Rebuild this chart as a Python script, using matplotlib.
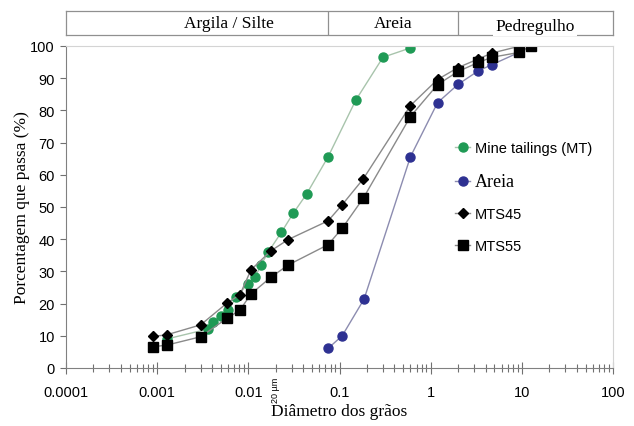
import numpy as np
import matplotlib
matplotlib.use("Agg")
import matplotlib.pyplot as plt
from matplotlib.ticker import LogLocator, NullFormatter

# grain size data (mm) / percent passing
mt_d = [0.00127, 0.0036, 0.0041, 0.005, 0.006, 0.0074, 0.0098, 0.0118, 0.0138,
        0.0166, 0.023, 0.031, 0.0435, 0.075, 0.151, 0.30, 0.60]
mt_p = [9.0, 12.1, 14.2, 16.2, 18.0, 22.0, 26.1, 28.2, 32.0,
        36.1, 42.1, 48.0, 54.0, 65.6, 83.2, 96.5, 99.4]

areia_d = [0.075, 0.107, 0.186, 0.60, 1.19, 2.0, 3.34, 4.7, 9.3]
areia_p = [6.1, 10.0, 21.4, 65.6, 82.4, 88.1, 92.3, 94.2, 98.0]

mts45_d = [0.0009, 0.00127, 0.003, 0.0058, 0.0081, 0.0107, 0.0177, 0.0274,
           0.075, 0.107, 0.182, 0.60, 1.19, 2.0, 3.34, 4.7, 9.3]
mts45_p = [9.8, 10.3, 13.4, 20.1, 22.8, 30.5, 36.4, 39.9,
           45.7, 50.7, 58.7, 81.5, 89.6, 93.3, 96.0, 97.8, 99.9]

mts55_d = [0.0009, 0.00127, 0.003, 0.0058, 0.0081, 0.0107, 0.0177, 0.0274,
           0.075, 0.107, 0.182, 0.60, 1.19, 2.0, 3.34, 4.7, 9.3, 12.6]
mts55_p = [6.6, 7.1, 9.7, 15.4, 18.0, 23.0, 28.2, 32.0,
           38.3, 43.4, 52.7, 78.1, 88.0, 92.1, 94.9, 96.5, 98.0, 100.0]

x_ticks = [0.0001, 0.001, 0.01, 0.1, 1, 10, 100]
x_labels = ["0.0001", "0.001", "0.01", "0.1", "1", "10", "100"]

# soil classes in the header band
class_names = ["Argila / Silte", "Areia", "Pedregulho"]
class_bounds = [0.0001, 0.075, 2.0, 100]

serif = "Liberation Serif"
sans = "Liberation Sans"

fig = plt.figure(figsize=(6.34, 4.27), dpi=100)
ax = fig.add_axes([66 / 634, 1 - 369 / 427, 547 / 634, 322 / 427])

ax.plot(mt_d, mt_p, "-o", color="#a8c4ac", lw=1, mfc="#1f9a55", mec="#1f9a55",
        ms=6.5, label="Mine tailings (MT)")
ax.plot(areia_d, areia_p, "-o", color="#8c8cb0", lw=1, mfc="#2e3192", mec="#2e3192",
        ms=6.5, label="Areia")
ax.plot(mts45_d, mts45_p, "-D", color="#8a8a8a", lw=1, mfc="black", mec="black",
        ms=4.8, label="MTS45")
ax.plot(mts55_d, mts55_p, "-s", color="#8a8a8a", lw=1, mfc="black", mec="black",
        ms=6.5, label="MTS55")

ax.set_xscale("log")
ax.set_xlim(0.0001, 100)
ax.set_ylim(0, 100)
ax.set_yticks(np.arange(0, 101, 10))
ax.set_xticks(x_ticks)
ax.set_xticklabels(x_labels)
ax.xaxis.set_minor_locator(LogLocator(base=10, subs=np.arange(2, 10), numticks=20))
ax.xaxis.set_minor_formatter(NullFormatter())

ax.tick_params(axis="x", which="major", direction="inout", length=8, width=0.8,
               color="#707070", pad=8, labelsize=10.5)
ax.tick_params(axis="x", which="minor", direction="inout", length=6, width=0.8,
               color="#707070")
ax.tick_params(axis="y", direction="out", length=4, width=0.8, color="#707070",
               pad=4, labelsize=10.5)
for lab in ax.get_xticklabels() + ax.get_yticklabels():
    lab.set_family(sans)

ax.spines["left"].set_color("#808080")
ax.spines["bottom"].set_color("#808080")
ax.spines["top"].set_color("#d4d4d4")
ax.spines["right"].set_color("#d4d4d4")

ax.set_ylabel("Porcentagem que passa (%)", family=serif, fontsize=12.5, labelpad=0)
ax.set_xlabel("Diâmetro dos grãos", family=serif, fontsize=12.5, labelpad=3)

# 20 micron marker under the axis
ax.text(0.02, -2.6, "20 µm", rotation=90, ha="center", va="top",
        fontsize=6.5, family=sans)

leg = ax.legend(loc="upper left", bbox_to_anchor=(0.688, 0.745), frameon=False,
                handlelength=1.0, handletextpad=0.35, labelspacing=1.2,
                prop={"family": sans, "size": 10.5})
for txt in leg.get_texts():
    if txt.get_text() == "Areia":
        txt.set_family(serif)
        txt.set_fontsize(13)

# header band with soil classes
hx = fig.add_axes([66 / 634, 1 - 36 / 427, 547 / 634, 24 / 427])
hx.set_xscale("log")
hx.set_xlim(0.0001, 100)
hx.set_ylim(0, 1)
hx.set_xticks([])
hx.set_yticks([])
hx.minorticks_off()
for sp in hx.spines.values():
    sp.set_color("#909090")
    sp.set_linewidth(0.9)
for b in class_bounds[1:-1]:
    hx.axvline(b, color="#909090", lw=0.9)
for i, name in enumerate(class_names):
    lo, hi = class_bounds[i], class_bounds[i + 1]
    if i == 0:
        lo = 0.0005
    xc = np.sqrt(lo * hi)
    if i == 2:
        xc = 14
        hx.text(xc, 0.38, name, ha="center", va="center", family=serif, fontsize=12.5,
                bbox=dict(facecolor="white", edgecolor="none", pad=1.5))
    else:
        hx.text(xc, 0.5, name, ha="center", va="center", family=serif, fontsize=12.5)

fig.savefig("out.png", dpi=100)
